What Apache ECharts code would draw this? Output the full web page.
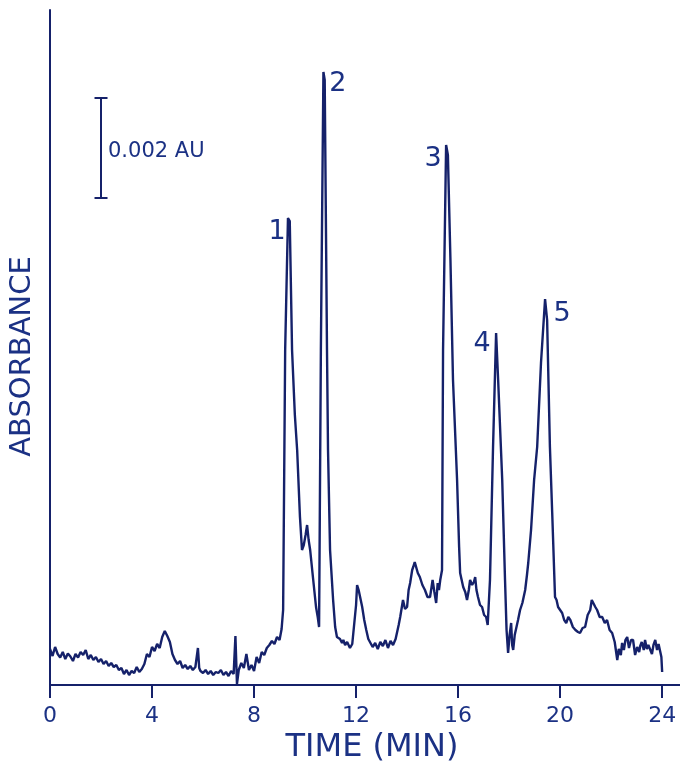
<!DOCTYPE html>
<html>
<head>
<meta charset="utf-8">
<script src="https://cdn.jsdelivr.net/npm/echarts@6/dist/echarts.min.js"></script>
<style>
html,body{margin:0;padding:0;background:#fff;}
#chart{width:680px;height:762px;}
</style>
</head>
<body>
<div id="chart"></div>
<script>
// Time (min)
const times = [
0.0,0.1,0.2,0.3,0.4,0.5,0.6,0.7,0.8,0.9,1.0,1.1,1.2,1.3,1.4,1.5,1.6,1.7,1.8,1.9,
2.0,2.1,2.2,2.3,2.4,2.5,2.6,2.7,2.8,2.9,3.0,3.1,3.2,3.3,3.4,3.5,3.6,3.7,3.8,3.9,
4.0,4.1,4.2,4.3,4.4,4.5,4.6,4.7,4.8,4.9,5.0,5.1,5.2,5.3,5.4,5.5,5.6,5.7,5.8,5.85,
5.9,6.0,6.1,6.2,6.3,6.4,6.5,6.6,6.7,6.8,6.9,7.0,7.1,7.2,7.27,7.33,7.4,7.5,7.6,7.7,
7.8,7.9,8.0,8.1,8.2,8.3,8.4,8.5,8.6,8.7,8.8,8.9,9.0,9.08,9.14,9.22,9.33,9.4,9.49,9.6,
9.69,9.8,9.88,9.95,10.02,10.08,10.14,10.2,10.3,10.43,10.5,10.55,10.62,10.72,10.77,10.86,10.9,10.98,11.1,11.18,
11.25,11.3,11.37,11.45,11.5,11.57,11.65,11.76,11.85,11.92,12.0,12.04,12.1,12.15,12.24,12.32,12.4,12.48,12.55,12.65,
12.75,12.85,12.95,13.05,13.15,13.25,13.35,13.45,13.55,13.6,13.67,13.73,13.84,13.92,14.0,14.06,14.12,14.2,14.24,14.3,
14.35,14.42,14.5,14.6,14.7,14.8,14.9,14.96,15.0,15.07,15.14,15.2,15.25,15.3,15.37,15.41,15.53,15.6,15.7,15.8,
15.96,16.04,16.08,16.14,16.2,16.28,16.35,16.42,16.47,16.55,16.62,16.67,16.72,16.78,16.86,16.94,17.02,17.1,17.16,17.22,
17.25,17.37,17.49,17.57,17.73,17.84,17.9,17.96,18.02,18.08,18.12,18.16,18.22,18.27,18.35,18.43,18.52,18.63,18.7,18.75,
18.86,18.98,19.1,19.25,19.41,19.49,19.6,19.69,19.8,19.86,19.92,20.0,20.08,20.16,20.24,20.32,20.4,20.5,20.6,20.7,
20.78,20.88,20.98,21.08,21.18,21.24,21.3,21.38,21.45,21.55,21.65,21.75,21.84,21.94,22.04,22.14,22.24,22.3,22.38,22.43,
22.5,22.56,22.63,22.7,22.78,22.86,22.94,23.02,23.1,23.14,23.2,23.28,23.33,23.4,23.46,23.53,23.6,23.66,23.73,23.8,
23.86,23.92,23.97,24.0
];
// Absorbance (mAU above baseline)
const absorbance = [
0.72,0.58,0.76,0.62,0.55,0.66,0.52,0.63,0.57,0.48,0.62,0.55,0.66,0.60,0.70,0.52,0.60,0.50,0.56,0.46,
0.52,0.42,0.48,0.38,0.44,0.36,0.40,0.30,0.34,0.22,0.30,0.20,0.28,0.24,0.36,0.26,0.32,0.42,0.62,0.56,
0.76,0.68,0.82,0.74,0.96,1.08,0.98,0.86,0.62,0.50,0.42,0.48,0.34,0.40,0.32,0.38,0.30,0.36,0.74,0.34,
0.28,0.24,0.30,0.22,0.28,0.20,0.26,0.24,0.30,0.20,0.26,0.18,0.28,0.22,0.98,0.02,0.30,0.44,0.34,0.62,
0.30,0.40,0.28,0.56,0.44,0.66,0.60,0.74,0.80,0.88,0.82,0.96,0.90,1.12,1.50,6.70,9.34,9.28,6.70,5.40,
4.70,3.36,2.70,2.80,3.00,3.20,2.90,2.70,2.20,1.56,1.35,1.16,6.70,12.26,12.10,6.70,4.70,2.70,1.70,1.16,
0.96,0.98,0.92,0.84,0.90,0.80,0.86,0.74,0.82,0.84,1.60,2.00,1.90,1.78,1.56,1.30,1.10,0.92,0.90,0.76,
0.84,0.72,0.86,0.78,0.90,0.74,0.88,0.80,0.92,0.96,1.20,1.36,1.70,1.52,1.56,1.90,2.04,2.30,2.36,2.46,
2.44,2.24,2.16,2.00,1.90,1.76,1.76,1.96,2.10,1.86,1.64,2.04,1.90,2.10,2.30,6.70,10.80,10.60,8.50,6.10,
4.10,2.76,2.24,2.10,1.96,1.86,1.70,1.90,2.10,2.00,2.06,2.16,1.90,1.76,1.60,1.56,1.40,1.36,1.20,1.24,
2.10,4.76,7.04,6.10,4.10,2.10,1.10,0.64,1.00,1.24,0.80,0.70,1.00,0.96,1.30,1.50,1.64,1.90,2.20,2.44,
3.10,4.10,4.76,6.44,7.72,7.30,4.76,3.44,1.76,1.70,1.56,1.50,1.44,1.30,1.24,1.36,1.30,1.16,1.10,1.06,
1.04,1.14,1.16,1.40,1.50,1.70,1.70,1.56,1.50,1.36,1.36,1.24,1.30,1.10,1.04,0.86,0.50,0.72,0.60,0.84,
0.70,0.90,0.96,0.74,0.90,0.90,0.60,0.76,0.66,0.78,0.86,0.70,0.90,0.72,0.80,0.76,0.62,0.80,0.90,0.70,
0.82,0.80,0.56,0.26
];
// Peak labels
const peakLabels = ['1','2','3','4','5'];
const peakLabelTimes = [8.9, 11.29, 15.02, 16.94, 20.08];
const peakLabelValues = [9.06, 12.02, 10.52, 6.82, 7.42];
// Scale bar (0.002 AU = 2 mAU)
const scaleBarTime = 2.0;
const scaleBarBottom = 9.74;
const scaleBarTop = 11.74;
const scaleBarText = '0.002 AU';
const xTicks = [0,4,8,12,16,20,24];

const traceColor = '#15216a';
const inkColor = '#1b3184';
const font = 'DejaVu Sans';

const chart = echarts.init(document.getElementById('chart'), null, {renderer:'canvas'});
chart.setOption({
  backgroundColor:'#ffffff',
  animation:false,
  grid:{left:50,right:0,top:10,bottom:77,containLabel:false,outerBoundsMode:'none'},
  xAxis:{
    type:'value', min:0, max:24.7, interval:4,
    name:'TIME (MIN)', nameLocation:'middle', nameGap:45,
    nameTextStyle:{color:inkColor, fontFamily:font, fontSize:32, padding:[0,0,0,14]},
    axisLine:{show:true, lineStyle:{color:traceColor, width:2}},
    axisTick:{show:true, length:13, lineStyle:{color:traceColor, width:2}, customValues:xTicks},
    axisLabel:{color:inkColor, fontFamily:font, fontSize:22, margin:20, customValues:xTicks},
    splitLine:{show:false}
  },
  yAxis:{
    type:'value', min:0, max:13.5,
    name:'ABSORBANCE', nameLocation:'middle', nameGap:13,
    nameTextStyle:{color:inkColor, fontFamily:font, fontSize:29, padding:[0,18,0,0]},
    axisLine:{show:true, lineStyle:{color:traceColor, width:2}},
    axisTick:{show:false}, axisLabel:{show:false}, splitLine:{show:false}
  },
  series:[
    {
      type:'line', data: times.map((t,i)=>[t, absorbance[i]]),
      showSymbol:false, symbol:'none',
      lineStyle:{color:traceColor, width:2.4}, z:3
    },
    {
      type:'scatter', symbolSize:0, itemStyle:{opacity:1},
      data: peakLabels.map((s,i)=>({value:[peakLabelTimes[i], peakLabelValues[i]], label:{formatter:s}})),
      label:{show:true, position:'inside', color:inkColor, fontFamily:font, fontSize:27}
    },
    {
      type:'line', symbol:'none',
      lineStyle:{color:traceColor, width:2},
      data:[
        {value:[scaleBarTime, scaleBarBottom], symbol:'rect', symbolSize:[13,2], itemStyle:{color:traceColor}},
        {value:[scaleBarTime, scaleBarTop], symbol:'rect', symbolSize:[13,2], itemStyle:{color:traceColor}}
      ],
      showAllSymbol:true
    },
    {
      type:'scatter', symbolSize:0, itemStyle:{opacity:1},
      data:[{value:[scaleBarTime, (scaleBarBottom+scaleBarTop)/2]}],
      label:{show:true, position:'right', distance:6, offset:[1,4], formatter:scaleBarText, color:inkColor, fontFamily:font, fontSize:21}
    }
  ]
});
</script>
</body>
</html>
